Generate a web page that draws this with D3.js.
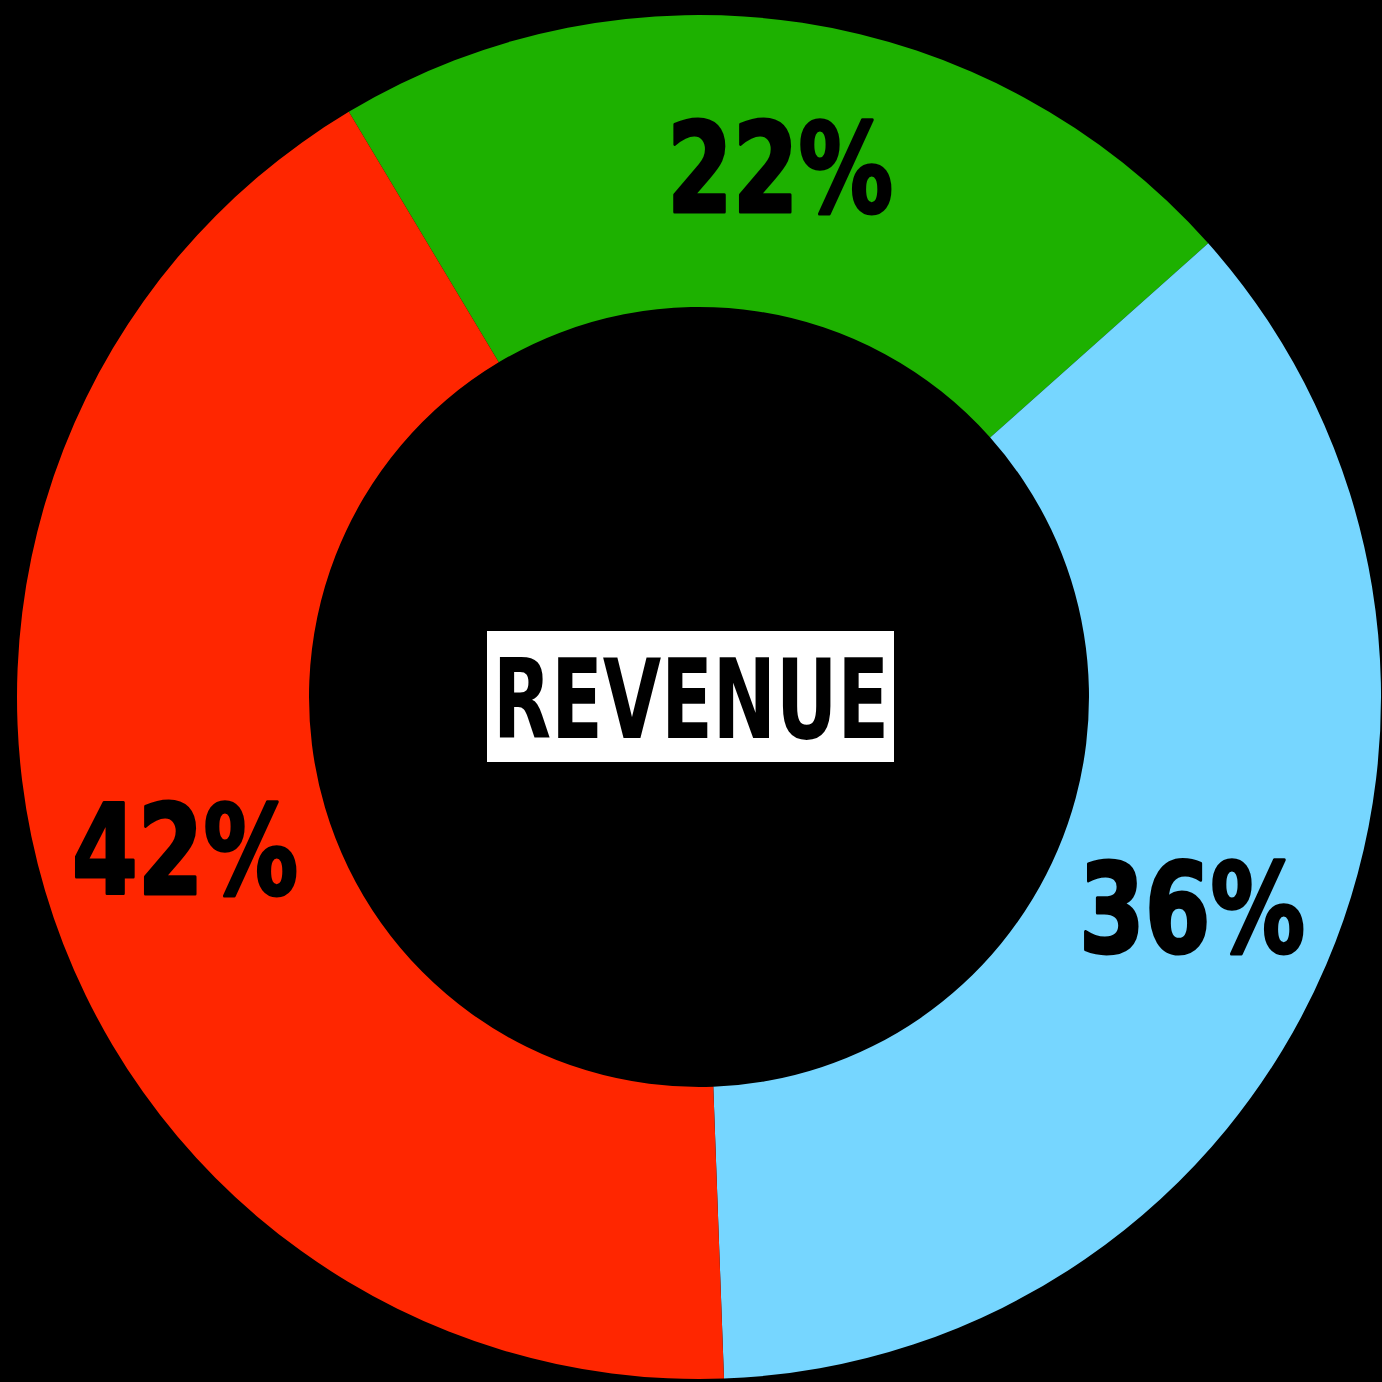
<!DOCTYPE html>
<html lang="en">
<head>
<meta charset="UTF-8">
<title>Revenue</title>
<script src="https://d3js.org/d3.v7.min.js"></script>
<style>
html,body{margin:0;padding:0;background:#000;}
svg{display:block;}
.pct{font-family:"Liberation Sans Narrow","DejaVu Sans Condensed",sans-serif;font-weight:bold;fill:#000;stroke:#000;stroke-width:3px;stroke-linejoin:round;}
.title{font-family:"Liberation Sans Narrow","DejaVu Sans Condensed",sans-serif;font-weight:bold;fill:#000;}
</style>
</head>
<body>
<script>
// slices, clockwise from the red/green boundary
var categories=["green","blue","red"];
var values=[22,36,42];
var colors=["#1db100","#76d6ff","#ff2600"];
var labels=["22%","36%","42%"];
var centerLabel="REVENUE";

var W=1382,H=1382;
var cx=699,cy=697;
var outerR=682,innerR=390;

var svg=d3.select("body").append("svg").attr("width",W).attr("height",H);
svg.append("rect").attr("width",W).attr("height",H).attr("fill","#000");

var g=svg.append("g").attr("transform","translate("+cx+","+cy+")");

var start=-30.9*Math.PI/180;
var pie=d3.pie().sort(null).value(function(d){return d;})
  .startAngle(start).endAngle(start+2*Math.PI);
var arc=d3.arc().innerRadius(innerR).outerRadius(outerR);
var arcs=pie(values);

g.selectAll("path.slice").data(arcs).enter().append("path")
  .attr("class","slice")
  .attr("d",arc)
  .attr("fill",function(d,i){return colors[i];});

var fs=124;
g.selectAll("text.pct").data(arcs).enter().append("text")
  .attr("class","pct")
  .attr("x",function(d){return arc.centroid(d)[0];})
  .attr("y",function(d){return arc.centroid(d)[1]+fs*0.729/2;})
  .attr("text-anchor","middle")
  .attr("font-size",fs)
  .attr("textLength",226)
  .attr("lengthAdjust","spacingAndGlyphs")
  .text(function(d,i){return labels[i];});

// center label box
g.append("rect")
  .attr("x",487-cx).attr("y",631-cy)
  .attr("width",407).attr("height",131)
  .attr("fill","#fff");
var tfs=111;
g.append("text").attr("class","title")
  .attr("x",691-cx).attr("y",738-cy)
  .attr("text-anchor","middle")
  .attr("font-size",tfs)
  .attr("textLength",396)
  .attr("lengthAdjust","spacingAndGlyphs")
  .text(centerLabel);
</script>
</body>
</html>
